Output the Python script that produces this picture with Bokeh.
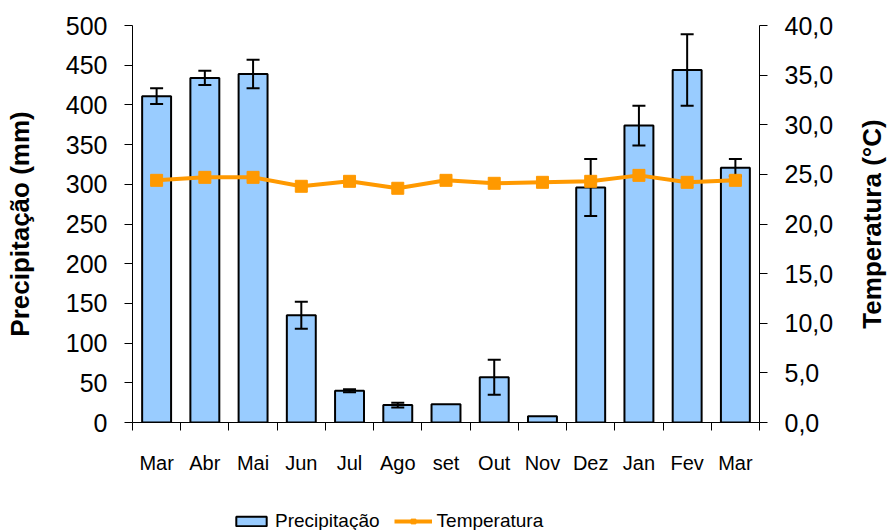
from bokeh.plotting import figure
from bokeh.layouts import gridplot
from bokeh.models import (Range1d, LinearAxis, FixedTicker, ColumnDataSource,
                          Legend, LegendItem, CustomJSTickFormatter)
from bokeh.embed import file_html
from bokeh.resources import INLINE

months = ["Mar", "Abr", "Mai", "Jun", "Jul", "Ago", "set", "Out", "Nov", "Dez", "Jan", "Fev", "Mar"]
precip = [411, 434, 439, 135, 40, 22, 23, 57, 8, 296, 374, 444, 321]
precip_err = [10, 9, 18, 17, 2, 3, 0, 22, 0, 36, 25, 45, 11]
temp = [24.4, 24.7, 24.7, 23.8, 24.3, 23.6, 24.4, 24.1, 24.2, 24.3, 24.9, 24.2, 24.4]
precip_ticks = [0, 50, 100, 150, 200, 250, 300, 350, 400, 450, 500]
temp_ticks = [0, 5, 10, 15, 20, 25, 30, 35, 40]
temp_tick_labels = ["0,0", "5,0", "10,0", "15,0", "20,0", "25,0", "30,0", "35,0", "40,0"]
series_names = ["Precipitação", "Temperatura"]
axis_titles = ["Precipitação (mm)", "Temperatura (°C)"]

SANS = "Liberation Sans"
BAR_FILL = "#99CCFF"
LINE_COLOR = "#FF9900"

n = len(months)
xs = [i + 0.5 for i in range(n)]

p = figure(width=848, height=500, x_range=Range1d(0, n), y_range=Range1d(0, 500),
           output_backend="svg", toolbar_location=None,
           min_border_left=132, min_border_right=89, min_border_top=25, min_border_bottom=78)
p.outline_line_color = None
p.grid.visible = False
p.background_fill_color = "white"
p.border_fill_color = "white"
p.extra_y_ranges = {"temp": Range1d(0, 40)}

src = ColumnDataSource(dict(x=xs, top=precip, temp=temp))
bars = p.vbar(x="x", top="top", width=0.6, source=src, fill_color=BAR_FILL,
              line_color="black", line_width=2)

ex = [xs[i] for i in range(n) if precip_err[i] > 0]
eu = [precip[i] + precip_err[i] for i in range(n) if precip_err[i] > 0]
el = [precip[i] - precip_err[i] for i in range(n) if precip_err[i] > 0]
esrc = ColumnDataSource(dict(x=ex, upper=eu, lower=el))
p.segment(x0="x", y0="lower", x1="x", y1="upper", source=esrc, line_color="black", line_width=2)
p.scatter(x="x", y="upper", source=esrc, marker="dash", size=13, line_color="black", line_width=2)
p.scatter(x="x", y="lower", source=esrc, marker="dash", size=13, line_color="black", line_width=2)

ln = p.line(x="x", y="temp", source=src, y_range_name="temp", line_color=LINE_COLOR, line_width=4)
sc = p.scatter(x="x", y="temp", source=src, y_range_name="temp", marker="square", size=12,
               fill_color=LINE_COLOR, line_color=LINE_COLOR)

# x axis
xa = p.xaxis[0]
xa.ticker = FixedTicker(ticks=xs, minor_ticks=list(range(n + 1)))
xa.formatter = CustomJSTickFormatter(args=dict(month_labels=months),
                                     code="const i = Math.floor(tick); return (i >= 0 && i < month_labels.length) ? month_labels[i] : '';")
xa.major_tick_out = 0
xa.major_tick_in = 0
xa.minor_tick_out = 8
xa.minor_tick_in = 0
xa.minor_tick_line_color = "black"
xa.axis_line_color = "black"
xa.major_label_text_font = SANS
xa.major_label_text_font_size = "20px"
xa.major_label_text_color = "black"
xa.major_label_standoff = 21

# left axis
ya = p.yaxis[0]
ya.ticker = FixedTicker(ticks=precip_ticks)
ya.major_tick_out = 8
ya.major_tick_in = 0
ya.minor_tick_out = 0
ya.minor_tick_in = 0
ya.axis_line_color = "black"
ya.major_tick_line_color = "black"
ya.major_label_text_font = SANS
ya.major_label_text_font_size = "25px"
ya.major_label_text_color = "black"
ya.major_label_standoff = 17
ya.axis_label = axis_titles[0]
ya.axis_label_text_font = SANS
ya.axis_label_text_font_style = "bold"
ya.axis_label_text_font_size = "26px"
ya.axis_label_text_color = "black"
ya.axis_label_standoff = 28

# right axis (ticks and labels)
ra = LinearAxis(y_range_name="temp", ticker=FixedTicker(ticks=temp_ticks),
                formatter=CustomJSTickFormatter(args=dict(tvals=temp_ticks, tlabels=temp_tick_labels),
                                                code="const i = tvals.indexOf(tick); return i >= 0 ? tlabels[i] : '';"))
ra.major_tick_out = 8
ra.major_tick_in = 0
ra.minor_tick_out = 0
ra.minor_tick_in = 0
ra.axis_line_color = "black"
ra.major_tick_line_color = "black"
ra.major_label_text_font = SANS
ra.major_label_text_font_size = "25px"
ra.major_label_text_color = "black"
ra.major_label_standoff = 17
p.add_layout(ra, "right")

# narrow strip at the right carrying the temperature axis title (reads bottom to top)
pt = figure(width=40, height=500, x_range=Range1d(0, 1), y_range=Range1d(0, 40),
            output_backend="svg", toolbar_location=None,
            min_border_left=38, min_border_right=0, min_border_top=25, min_border_bottom=78)
pt.outline_line_color = None
pt.grid.visible = False
pt.xaxis.visible = False
ty = pt.yaxis[0]
ty.ticker = FixedTicker(ticks=[])
ty.major_tick_out = 0
ty.major_tick_in = 0
ty.minor_tick_out = 0
ty.minor_tick_in = 0
ty.major_label_standoff = 0
ty.axis_line_color = None
ty.axis_label = axis_titles[1]
ty.axis_label_text_font = SANS
ty.axis_label_text_font_style = "bold"
ty.axis_label_text_font_size = "26px"
ty.axis_label_text_color = "black"
ty.axis_label_standoff = 0

# legend strip below the chart: same series as hidden renderers, so only the legend shows
pl = figure(width=848, height=30, x_range=Range1d(0, n), y_range=Range1d(0, 1),
            output_backend="svg", toolbar_location=None,
            min_border_left=0, min_border_right=0, min_border_top=0, min_border_bottom=0)
pl.outline_line_color = None
pl.grid.visible = False
pl.axis.visible = False
lb = pl.vbar(x="x", top="top", source=src, width=0.6, fill_color=BAR_FILL, line_color="black",
             line_width=2, visible=False)
ll = pl.line(x="x", y="temp", source=src, line_color=LINE_COLOR, line_width=4, visible=False)
ls = pl.scatter(x="x", y="temp", source=src, marker="square", size=12, fill_color=LINE_COLOR,
                line_color=LINE_COLOR, visible=False)
legend = Legend(items=[LegendItem(label=series_names[0], renderers=[lb]),
                       LegendItem(label=series_names[1], renderers=[ll, ls])],
                orientation="horizontal", location=(100, -2),
                glyph_width=38, glyph_height=12, label_standoff=5, spacing=14,
                padding=0, margin=0, border_line_color=None, background_fill_alpha=0,
                label_text_font=SANS, label_text_font_size="19px", label_text_color="black")
pl.add_layout(legend)

grid = gridplot([[p, pt], [pl, None]], toolbar_location=None)
open("out.html", "w").write(file_html(grid, INLINE))
